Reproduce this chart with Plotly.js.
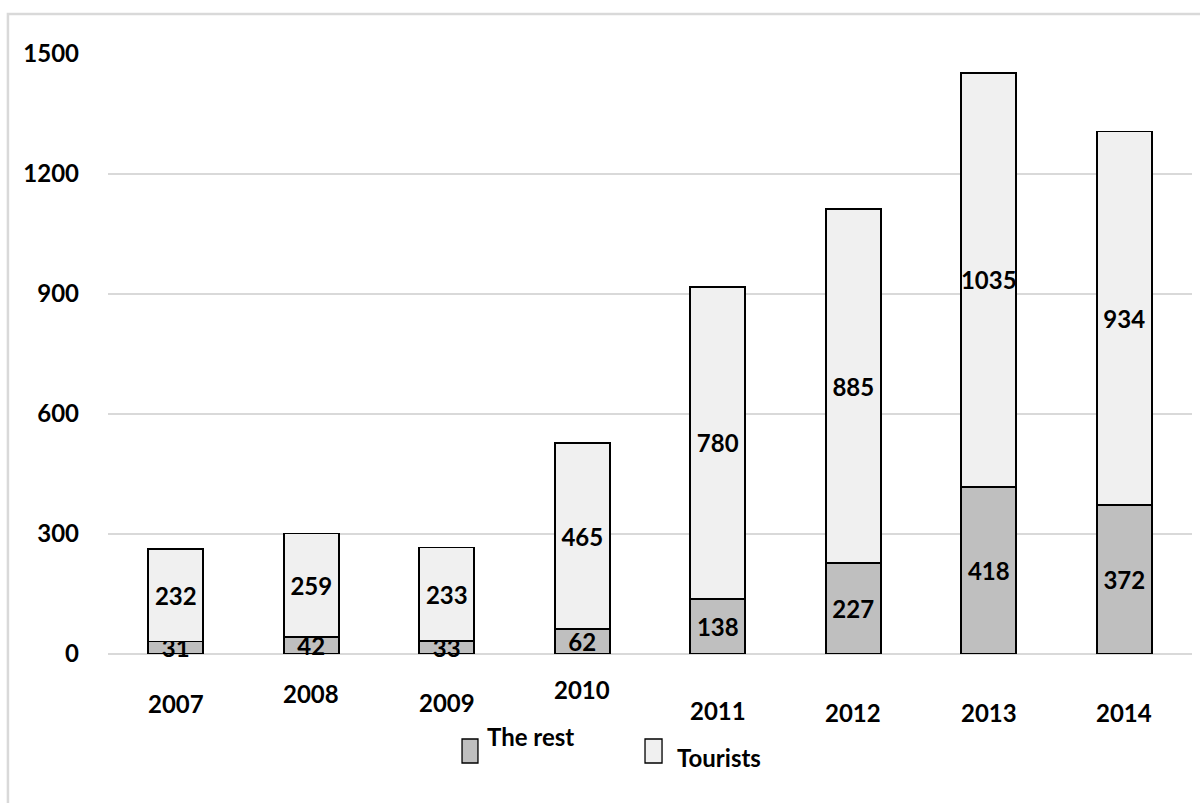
<!DOCTYPE html>
<html>
<head>
<meta charset="utf-8">
<script src="https://cdn.plot.ly/plotly-3.0.1.min.js"></script>
<style>html,body{margin:0;padding:0;background:#fff;}#chart{width:1200px;height:803px;}</style>
</head>
<body>
<div id="chart"></div>
<script>
const years = ['2007','2008','2009','2010','2011','2012','2013','2014'];
const theRest = [31, 42, 33, 62, 138, 227, 418, 372];
const tourists = [232, 259, 233, 465, 780, 885, 1035, 934];
const seriesNames = ['The rest', 'Tourists'];
const yTicks = [0, 300, 600, 900, 1200, 1500];

// vertical offsets (px) of the category labels below the axis, as in the original
const labelDrop = [-49, -39, -48, -35, -56, -58, -58, -58];

const FONT = 'Lato, "Open Sans", sans-serif';
const FS = 24;
const common = {
  type: 'bar',
  x: years,
  texttemplate: '%{y}',
  textposition: 'inside',
  insidetextanchor: 'middle',
  textangle: 0,
  constraintext: 'none',
  cliponaxis: false,
  textfont: {family: FONT, size: FS, color: '#000000', weight: 'bold'},
  hoverinfo: 'skip',
  showlegend: false
};
const traces = [
  Object.assign({}, common, {name: seriesNames[0], y: theRest,
    marker: {color: '#bfbfbf', line: {color: '#000000', width: 1.6}}}),
  Object.assign({}, common, {name: seriesNames[1], y: tourists,
    marker: {color: '#f0f0f0', line: {color: '#000000', width: 1.6}}})
];

const annotations = years.map((yr, i) => ({
  x: yr, xref: 'x', y: 0, yref: 'paper', yshift: labelDrop[i],
  text: yr, showarrow: false, xanchor: 'center', yanchor: 'middle',
  font: {family: FONT, size: FS, color: '#000000', weight: 'bold'}
}));
annotations.push({
  x: 0.3478, xref: 'paper', y: -0.1383, yref: 'paper', text: seriesNames[0],
  showarrow: false, xanchor: 'left', yanchor: 'middle',
  font: {family: FONT, size: FS, color: '#000000', weight: 'bold'}
});
annotations.push({
  x: 0.5231, xref: 'paper', y: -0.1717, yref: 'paper', text: seriesNames[1],
  showarrow: false, xanchor: 'left', yanchor: 'middle',
  font: {family: FONT, size: FS, color: '#000000', weight: 'bold'}
});

const shapes = [
  {type: 'rect', xref: 'paper', yref: 'paper', x0: -0.0923, x1: 1.02, y0: -0.3, y1: 1.0667,
   line: {color: '#d9d9d9', width: 2.5}, fillcolor: 'rgba(0,0,0,0)', layer: 'below'},
  {type: 'rect', xref: 'paper', yref: 'paper', x0: 0.3266, x1: 0.3413, y0: -0.1817, y1: -0.1417,
   line: {color: '#000000', width: 1.3}, fillcolor: '#bfbfbf'},
  {type: 'rect', xref: 'paper', yref: 'paper', x0: 0.4954, x1: 0.5111, y0: -0.1817, y1: -0.1417,
   line: {color: '#000000', width: 1.3}, fillcolor: '#f0f0f0'}
];

const layout = {
  width: 1200, height: 803,
  margin: {l: 108, r: 8, t: 54, b: 149, pad: 0},
  paper_bgcolor: '#ffffff', plot_bgcolor: '#ffffff',
  font: {family: FONT, size: FS, color: '#000000', weight: 'bold'},
  barmode: 'stack',
  bargap: 0.594,
  showlegend: false,
  xaxis: {showticklabels: false, showgrid: false, zeroline: false, showline: false, ticks: ''},
  yaxis: {range: [0, 1500], tickvals: yTicks, ticktext: yTicks.map(String),
    showgrid: true, gridcolor: '#d9d9d9', gridwidth: 1.6,
    zeroline: true, zerolinecolor: '#d9d9d9', zerolinewidth: 1.6,
    showline: false, ticks: '', ticklabelstandoff: 28,
    tickfont: {family: FONT, size: FS, color: '#000000', weight: 'bold'}},
  annotations: annotations,
  shapes: shapes
};

Plotly.newPlot('chart', traces, layout, {staticPlot: true, displayModeBar: false});
</script>
</body>
</html>
